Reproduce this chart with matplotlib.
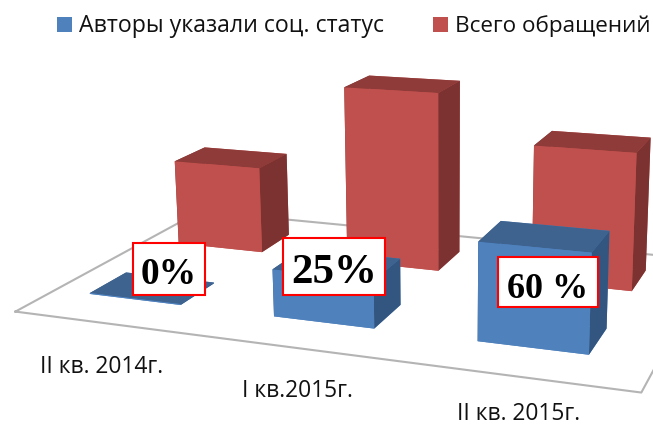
import matplotlib
matplotlib.use('Agg')
import matplotlib.pyplot as plt
from matplotlib.patches import Rectangle

quarters = ['II кв. 2014г.', 'I кв.2015г.', 'II кв. 2015г.']
series_names = ['Авторы указали соц. статус', 'Всего обращений']
status_values = [0.1, 5, 10]
total_values = [10, 20, 15]
percent_labels = ['0%', '25%', '60 %']

W, H = 653, 427
BLUE, BLUE_TOP, BLUE_SIDE = '#4f81bd', '#3f638f', '#335680'
RED, RED_TOP, RED_SIDE = '#c0504d', '#8e3b39', '#7b3230'
SANS = ['Open Sans', 'DejaVu Sans']
SERIF = ['Liberation Serif', 'DejaVu Serif']


def fx(px):
    return px / W


def fy(py):
    return 1 - py / H


fig = plt.figure(figsize=(W / 100, H / 100), dpi=100)

# camera and axes box fitted to the reference perspective
cx, cy, size = 368.8, 221, 724
ax = fig.add_axes([(cx - size / 2) / W, (cy - size / 2) / H, size / W, size / H],
                  projection='3d')
ax.set_axis_off()
ax.set_xlim(0, 3)
ax.set_ylim(0, 2)
ax.set_zlim(0, 20)
ax.set_proj_type('persp', focal_length=0.3773)
ax.view_init(elev=14.92, azim=-68.81, roll=0.6751)
ax.set_box_aspect((3, 1.886, 0.9275))
ax.computed_zorder = False

ax.plot([0, 3, 3, 0, 0], [0, 0, 2, 2, 0], [0] * 5, color='#b4b4b4', lw=1.5, zorder=1)

bar_gap, bar_w, bar_d = 0.1977, 0.5051, 0.3701
row_status, row_total = 0.3658, 1.333
for i, v in enumerate(total_values):
    ax.bar3d(i + bar_gap, row_total, 0, bar_w, bar_d, v,
             color=[RED, RED_TOP, RED, RED, RED_SIDE, RED_SIDE], shade=False, zorder=2 + i)
for i, v in enumerate(status_values):
    ax.bar3d(i + bar_gap, row_status, 0, bar_w, bar_d, v,
             color=[BLUE, BLUE_TOP, BLUE, BLUE, BLUE_SIDE, BLUE_SIDE], shade=False, zorder=6 + i)

# legend
for (x0, col, fs), name in zip([(57, BLUE, 16.7), (433, RED, 16.2)], series_names):
    fig.add_artist(Rectangle((fx(x0), fy(33)), 15 / W, 15 / H, transform=fig.transFigure,
                             facecolor=col, edgecolor='none'))
    fig.text(fx(x0 + 22), fy(32), name, family=SANS, fontsize=fs, color='#111111',
             ha='left', va='baseline')

# category labels
for label, x0, base in zip(quarters, [40, 242, 457], [373, 397, 420]):
    fig.text(fx(x0), fy(base), label, family=SANS, fontsize=16.4, color='#111111',
             ha='left', va='baseline')

# boxed percentages
boxes = [(133, 205, 244, 296, 284, 27), (283, 385, 239, 296, 283, 31), (498, 598, 258, 308, 298, 26)]
for label, (x0, x1, y0, y1, base, fs) in zip(percent_labels, boxes):
    fig.add_artist(Rectangle((fx(x0), fy(y1)), (x1 - x0) / W, (y1 - y0) / H,
                             transform=fig.transFigure, facecolor='white',
                             edgecolor='#ff0000', lw=1.5, zorder=5))
    fig.text(fx((x0 + x1) / 2), fy(base), label, family=SERIF, fontsize=fs, fontweight='bold',
             color='black', ha='center', va='baseline', zorder=6)

fig.savefig('out.png', dpi=100)
